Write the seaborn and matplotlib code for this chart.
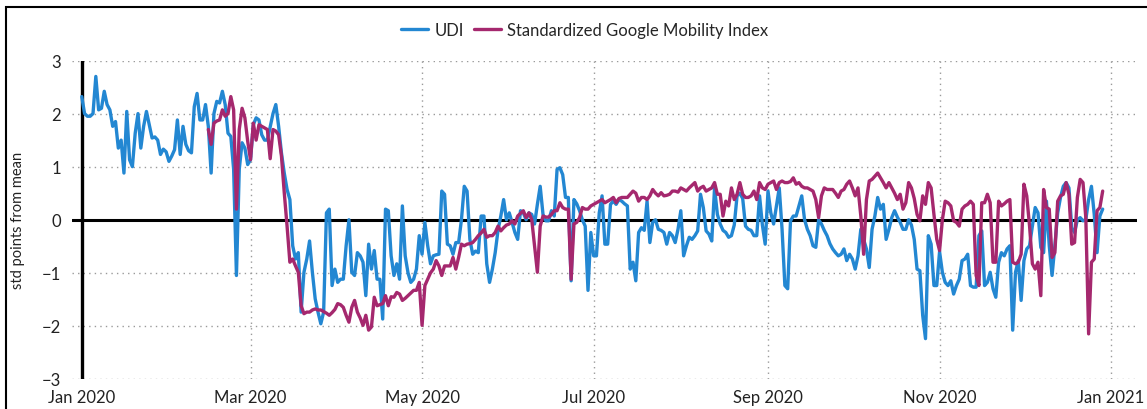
import pandas as pd
import matplotlib
matplotlib.use("Agg")
import matplotlib.pyplot as plt
import matplotlib.dates as mdates
from matplotlib.patches import Rectangle
from matplotlib.lines import Line2D
import seaborn as sns

# UDI, daily from 2020-01-01
udi_start = "2020-01-01"
udi = [
    2.32, 2.0, 1.95, 1.95, 2.0, 2.7, 2.07, 2.1, 2.42, 2.17,
    2.07, 1.76, 1.85, 1.35, 1.5, 0.88, 2.04, 1.13, 1.0, 1.63,
    2.0, 1.35, 1.76, 2.04, 1.79, 1.54, 1.56, 1.5, 1.23, 1.33,
    1.28, 1.1, 1.2, 1.32, 1.88, 1.23, 1.76, 1.42, 1.3, 1.26,
    2.13, 2.38, 1.88, 1.88, 2.17, 1.76, 0.88, 2.0, 2.23, 2.2,
    2.42, 2.17, 1.63, 1.57, 0.95, -1.05, 0.95, 1.45, 1.35, 1.04,
    1.13, 1.79, 1.92, 1.88, 1.6, 1.5, 1.5, 1.75, 2.0, 2.17,
    1.76, 1.26, 0.88, 0.57, 0.38, -0.49, -0.74, -0.62, -1.74, -0.99,
    -0.74, -0.4, -0.99, -1.49, -1.74, -1.96, -1.74, 0.13, 0.2, -1.24,
    -0.93, -1.18, -1.12, -1.12, -0.49, 0.0, -0.99, -1.05, -0.62, -0.68,
    -0.8, -1.43, -0.46, -0.93, -0.58, -1.12, -1.12, -1.87, 0.2, 0.17,
    -0.68, -1.05, -0.83, -1.12, 0.26, -0.68, -1.0, -1.18, -1.12, -0.93,
    -0.3, -0.65, -0.05, -0.49, -0.83, -0.68, -0.66, -0.65, 0.54, 0.48,
    -0.46, -0.49, -0.65, -0.43, -0.43, 0.0, 0.63, 0.54, -0.37, -0.65,
    -0.59, -0.62, 0.07, 0.07, -0.83, -1.18, -0.93, -0.62, -0.2, 0.07,
    0.38, 0.0, 0.13, -0.05, -0.24, -0.37, 0.17, 0.13, 0.0, 0.13,
    0.1, -0.08, 0.29, 0.63, 0.1, -0.02, -0.02, 0.17, 0.07, 0.95,
    0.98, 0.85, 0.42, 0.42, -1.15, 0.38, 0.3, 0.17, 0.0, -0.12,
    -1.33, -0.24, -0.68, -0.68, 0.13, 0.45, -0.46, -0.46, 0.29, 0.35,
    0.29, 0.38, 0.35, 0.3, 0.26, -0.93, -0.8, -1.15, -0.24, -0.15,
    -0.2, 0.35, -0.43, -0.05, 0.0, -0.18, -0.2, -0.24, -0.46, -0.24,
    -0.3, -0.43, -0.18, 0.17, -0.68, -0.49, -0.33, -0.37, -0.3, -0.21,
    0.48, 0.23, -0.21, -0.27, -0.4, 0.6, 0.1, -0.08, -0.2, -0.24,
    -0.33, -0.3, -0.1, 0.45, 0.5, 0.4, -0.12, -0.18, -0.2, -0.3,
    -0.3, 0.45, -0.1, -0.46, 0.54, 0.13, -0.08, 0.26, 0.6, -0.18,
    -1.24, -1.3, -0.02, 0.07, 0.07, 0.26, 0.45, 0.0, -0.18, -0.3,
    -0.49, -0.52, 0.0, -0.08, -0.2, -0.3, -0.45, -0.55, -0.62, -0.68,
    -0.65, -0.55, -0.77, -0.65, -0.74, -0.93, -0.68, -0.18, -0.37, -0.55,
    -0.9, -0.18, 0.07, 0.42, 0.2, 0.29, -0.37, -0.18, 0.04, 0.17,
    0.05, -0.05, -0.18, -0.18, 0.0, -0.1, -0.37, -0.93, -0.96, -1.8,
    -2.24, -0.3, -0.46, -1.24, -1.24, -0.6, -0.99, -1.18, -1.24, -1.15,
    -1.4, -1.24, -1.12, -0.77, -0.74, -0.65, -1.24, -1.27, -1.27, -0.3,
    -0.21, -1.24, -1.18, -0.99, -1.3, -1.46, -0.8, -0.62, -0.68, -0.55,
    -0.49, -2.08, -0.99, -0.77, -1.52, -0.77, -0.55, -0.49, -0.12, 0.23,
    0.13, -0.52, -0.62, 0.35, -0.49, -1.05, -0.49, 0.13, 0.42, 0.63,
    0.7, 0.6, -0.15, -0.24, 0.0, 0.04, -0.02, 0.0, 0.38, 0.63,
    0.1, -0.62, 0.07, 0.2,
]

# Standardized Google Mobility Index, daily from 2020-02-15
mob_start = "2020-02-15"
mobility = [
    1.70, 1.42, 1.82, 1.86, 1.88,
    2.07, 1.95, 2.0, 2.32, 2.07, 0.2, 1.70, 2.1, 1.92, 1.48,
    1.13, 1.82, 1.5, 1.79, 1.76, 1.73, 1.7, 1.15, 1.70, 1.67,
    1.6, 1.2, 0.51, -0.12, -0.80, -0.74, -0.87, -0.99, -1.62, -1.77,
    -1.74, -1.74, -1.7, -1.68, -1.7, -1.7, -1.73, -1.76, -1.8, -1.75,
    -1.69, -1.58, -1.6, -1.65, -1.8, -1.93, -1.65, -1.52, -1.74, -1.85,
    -1.99, -1.8, -2.08, -2.02, -1.46, -1.62, -1.6, -1.58, -1.43, -1.62,
    -1.45, -1.46, -1.37, -1.4, -1.52, -1.48, -1.43, -1.38, -1.33, -1.33,
    -1.18, -1.99, -1.24, -1.12, -1.0, -0.93, -0.77, -0.87, -1.05, -0.87,
    -0.87, -0.87, -0.71, -0.93, -0.71, -0.46, -0.49, -0.46, -0.45, -0.43,
    -0.37, -0.3, -0.25, -0.18, -0.33, -0.3, -0.3, -0.24, -0.12, -0.21,
    -0.15, -0.1, -0.08, -0.02, -0.08, 0.07, 0.12, 0.17, 0.04, 0.13,
    0.0, -0.5, -0.99, -0.12, 0.07, 0.05, 0.05, 0.1, 0.17, 0.17,
    0.32, 0.23, 0.2, 0.2, -1.12, -0.08, -0.05, 0.04, 0.23, 0.2,
    0.2, 0.26, 0.29, 0.32, 0.35, 0.38, 0.32, 0.35, 0.38, 0.42,
    0.32, 0.4, 0.42, 0.42, 0.42, 0.48, 0.54, 0.5, 0.35, 0.42,
    0.42, 0.38, 0.45, 0.57, 0.5, 0.45, 0.51, 0.45, 0.46, 0.48,
    0.54, 0.54, 0.52, 0.6, 0.57, 0.54, 0.6, 0.65, 0.7, 0.54,
    0.6, 0.63, 0.54, 0.57, 0.6, 0.7, 0.48, 0.48, 0.07, 0.35,
    0.26, 0.6, 0.38, 0.48, 0.7, 0.48, 0.42, 0.42, 0.45, 0.54,
    0.38, 0.7, 0.6, 0.57, 0.67, 0.7, 0.73, 0.57, 0.7, 0.73,
    0.7, 0.7, 0.72, 0.79, 0.67, 0.7, 0.63, 0.6, 0.6, 0.57,
    0.54, 0.38, 0.04, 0.45, 0.6, 0.57, 0.57, 0.57, 0.5, 0.42,
    0.54, 0.57, 0.67, 0.73, 0.6, 0.45, 0.6, 0.07, -0.65, 0.38,
    0.73, 0.76, 0.82, 0.88, 0.79, 0.7, 0.6, 0.7, 0.6, 0.5,
    0.38, 0.48, 0.2, 0.32, 0.7, 0.6, 0.4, 0.1, -0.02, 0.45,
    0.29, 0.7, 0.6, 0.1, -0.37, -0.58, 0.0, 0.35, 0.32, 0.26,
    -0.02, -0.05, -0.12, 0.2, 0.26, 0.29, 0.35, 0.29, -1.05, -1.24,
    0.32, 0.32, 0.48, 0.32, -0.8, -0.8, 0.35, 0.26, 0.3, 0.35,
    0.38, -0.8, -0.83, -0.8, -0.65, 0.67, 0.45, -0.12, -0.83, -0.93,
    -0.8, -1.43, 0.57, 0.23, 0.2, -0.71, -0.62, 0.35, 0.45, 0.48,
    0.7, 0.48, -0.46, -0.43, 0.42, 0.76, 0.7, 0.04, -2.15, -0.8,
    -0.74, 0.17, 0.23, 0.54,
]

series_names = ["UDI", "Standardized Google Mobility Index"]
colors = ["#2387D2", "#A5286E"]
y_ticks = [-3, -2, -1, 0, 1, 2, 3]

udi_df = pd.DataFrame({"date": pd.date_range(udi_start, periods=len(udi), freq="D"),
                       "value": udi})
mob_df = pd.DataFrame({"date": pd.date_range(mob_start, periods=len(mobility), freq="D"),
                       "value": mobility})

sns.set_style("white")
plt.rcParams["font.family"] = ["Lato", "DejaVu Sans"]

fig = plt.figure(figsize=(11.47, 4.10), dpi=100)
ax = fig.add_axes([0.0628, 0.0732, 0.9285, 0.7768])

sns.lineplot(data=udi_df, x="date", y="value", ax=ax, color=colors[0], lw=2.4, zorder=3)
sns.lineplot(data=mob_df, x="date", y="value", ax=ax, color=colors[1], lw=2.4, zorder=4)

ax.set_ylim(-3, 3)
ax.set_yticks(y_ticks)
ax.xaxis.set_major_locator(mdates.MonthLocator(bymonth=[1, 3, 5, 7, 9, 11]))
ax.xaxis.set_major_formatter(mdates.DateFormatter("%b %Y"))
ax.set_xlim(pd.Timestamp("2019-12-28 13:00"), pd.Timestamp("2021-01-10 05:00"))

ax.grid(True, linestyle=(0, (1, 3)), color="#9a9a9a", lw=1.0, zorder=0)
for s in ax.spines.values():
    s.set_visible(False)
ax.tick_params(length=0, labelsize=12, colors="#222222")
ax.tick_params(axis="x", pad=7)
ax.tick_params(axis="y", pad=8)

ax.axhline(0, color="black", lw=2.2, zorder=2)
ax.axvline(pd.Timestamp("2020-01-01"), color="black", lw=2.4, zorder=2)

ax.set_xlabel("")
ax.set_ylabel("std points from mean", fontsize=10.5, color="#222222")
ax.yaxis.set_label_coords(-0.044, 0.5)

handles = [Line2D([0], [0], color=c, lw=2.4) for c in colors]
fig.legend(handles, series_names, loc="center", bbox_to_anchor=(0.51, 0.925),
           ncol=2, frameon=False, fontsize=12, handlelength=1.6,
           handletextpad=0.4, columnspacing=0.6)

fig.patches.append(Rectangle((6 / 1147, -0.2), 1.2, 1.2 - 8 / 410, fill=False,
                             edgecolor="black", lw=1.5, transform=fig.transFigure,
                             figure=fig))

fig.savefig("out.png", dpi=100)
